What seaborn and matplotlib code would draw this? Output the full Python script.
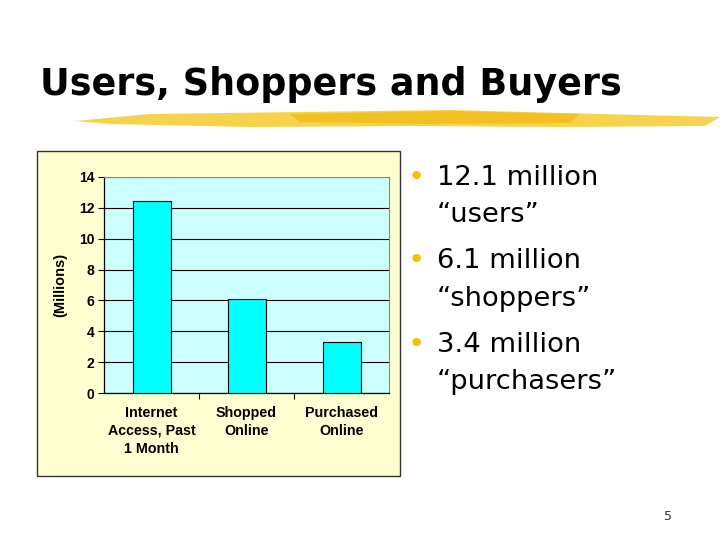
import matplotlib
matplotlib.use("Agg")
import matplotlib.pyplot as plt
import seaborn as sns
import pandas as pd
from matplotlib.patches import Rectangle, Polygon

# data
categories = ["Internet\nAccess, Past\n1 Month", "Shopped\nOnline", "Purchased\nOnline"]
users_millions = [12.45, 6.07, 3.33]
y_ticks = [0, 2, 4, 6, 8, 10, 12, 14]
bullet_lines = [("12.1 million", "\u201cusers\u201d"),
                ("6.1 million", "\u201cshoppers\u201d"),
                ("3.4 million", "\u201cpurchasers\u201d")]

sns.set_style("white")
plt.rcParams['font.family'] = ['Liberation Sans', 'DejaVu Sans']
plt.rcParams['text.color'] = 'black'
plt.rcParams['axes.labelcolor'] = 'black'
plt.rcParams['xtick.color'] = 'black'
plt.rcParams['ytick.color'] = 'black'

df = pd.DataFrame({"category": categories, "value": users_millions})

fig = plt.figure(figsize=(7.2, 5.4), dpi=100)
fig.patch.set_facecolor("white")


def px(x, y):
    return (x / 720, 1 - y / 540)


# title and brush stroke
fig.text(*px(40, 95), "Users, Shoppers and Buyers", fontsize=26.3,
         fontweight="bold", family="DejaVu Sans", color="black", ha="left", va="baseline")
stroke = [px(75, 121), px(150, 114), px(300, 112), px(450, 110), px(600, 114), px(720, 117),
          px(705, 126), px(560, 127), px(420, 126), px(250, 127), px(110, 124)]
fig.patches.append(Polygon(stroke, closed=True, transform=fig.transFigure,
                           facecolor="#F7CF3A", edgecolor="none", alpha=0.9))
fig.patches.append(Polygon([px(290, 114), px(450, 111), px(580, 114), px(570, 123), px(420, 124), px(300, 122)],
                           closed=True, transform=fig.transFigure, facecolor="#F2B90F",
                           edgecolor="none", alpha=0.7))

# chart frame
fig.patches.append(Rectangle(px(37, 476), 363 / 720, 325 / 540,
                             transform=fig.transFigure, facecolor="#FFFFD2",
                             edgecolor="#333333", linewidth=1.0, zorder=-1))

ax = fig.add_axes([104 / 720, 1 - 393.3 / 540, 285 / 720, 216.6 / 540])
ax.set_facecolor("#CCFFFF")
sns.barplot(data=df, x="category", y="value", color="#00FFFF", saturation=1,
            edgecolor="black", linewidth=0.8, width=0.4, ax=ax, zorder=3)
ax.set_ylim(0, 14)
ax.set_xlim(-0.5, 2.5)
ax.set_yticks(y_ticks)
ax.yaxis.grid(True, color="black", linewidth=0.8)
ax.set_axisbelow(True)
ax.set_xlabel("")
ax.set_ylabel("(Millions)", fontsize=10.5, fontweight="bold", labelpad=8)
ax.tick_params(axis="y", length=4, width=0.8, direction="out", left=True,
               labelsize=10, pad=3)
for lbl in ax.get_yticklabels():
    lbl.set_fontweight("bold")
ax.set_xticks([0, 1, 2])
ax.set_xticklabels(categories, fontsize=10.3, fontweight="bold", linespacing=1.38)
ax.tick_params(axis="x", length=0, pad=9)
ax.set_xticks([0.5, 1.5], minor=True)
ax.tick_params(axis="x", which="minor", length=4, width=0.8, direction="out", bottom=True)
for side in ["left", "bottom"]:
    ax.spines[side].set_color("black")
    ax.spines[side].set_linewidth(0.9)
for side in ["top", "right"]:
    ax.spines[side].set_color("#888888")
    ax.spines[side].set_linewidth(0.8)

# bullet list on the right
for i, (first, second) in enumerate(bullet_lines):
    base = 185 + i * 83.5
    fig.text(*px(416, base), "\u2022", fontsize=21, color="#F4C000",
             ha="center", va="baseline", family="DejaVu Sans")
    fig.text(*px(437, base), first, fontsize=19.7, color="black", ha="left",
             va="baseline", family="DejaVu Sans")
    fig.text(*px(437, base + 37), second, fontsize=19.7, color="black", ha="left",
             va="baseline", family="DejaVu Sans")

fig.text(*px(668, 520), "5", fontsize=9, color="#333333", ha="center",
         va="baseline", family="DejaVu Sans")

fig.savefig("out.png", dpi=100)
